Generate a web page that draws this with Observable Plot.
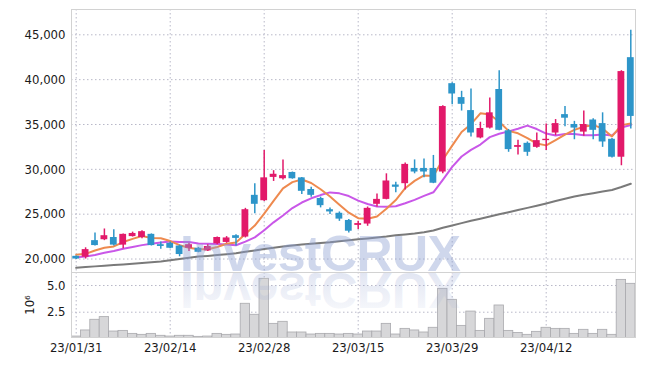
<!DOCTYPE html>
<html><head><meta charset="utf-8">
<script src="https://cdn.jsdelivr.net/npm/d3@7"></script>
<script src="https://cdn.jsdelivr.net/npm/@observablehq/plot@0.6"></script>
<style>
html,body{margin:0;padding:0;background:#fff;}
#chart{position:relative;width:645px;height:366px;overflow:hidden;}
#chart svg{display:block;}
</style></head><body><div id="chart"></div>
<script>
const dates = ["23/01/31",
"23/02/01","23/02/02","23/02/03","23/02/06","23/02/07","23/02/08","23/02/09","23/02/10","23/02/13","23/02/14",
"23/02/15","23/02/16","23/02/17","23/02/20","23/02/21","23/02/22","23/02/23","23/02/24","23/02/27","23/02/28",
"23/03/02","23/03/03","23/03/06","23/03/07","23/03/08","23/03/09","23/03/10","23/03/13","23/03/14","23/03/15",
"23/03/16","23/03/17","23/03/20","23/03/21","23/03/22","23/03/23","23/03/24","23/03/27","23/03/28","23/03/29",
"23/03/30","23/03/31","23/04/03","23/04/04","23/04/05","23/04/06","23/04/07","23/04/10","23/04/11","23/04/12",
"23/04/13","23/04/14","23/04/17","23/04/18","23/04/19","23/04/20","23/04/21","23/04/24","23/04/25"];

const open = [20300,20200,22050,22150,22400,21550,22500,22400,22750,21600,
21750,21450,21200,21200,20900,21700,21850,22600,22450,27100,
26500,29100,28950,29650,29050,27750,26750,25500,25100,24300,
23750,23900,26100,26650,28250,28400,30100,30100,30100,29700,
39550,38000,36550,33500,34600,38900,34300,32450,32900,32450,
33200,34050,36100,35000,34150,35500,35100,33350,31350,42450];
const high = [20350,21250,22900,23350,23250,22800,23000,23150,22800,21900,
21900,21550,21750,21300,21600,22450,22500,22700,25650,28400,
32100,29850,31050,29700,29100,28000,26900,25700,25250,24400,
24200,25800,27250,29500,28550,30700,31050,31150,31550,37100,
39650,38700,38950,35250,37950,41000,34450,33250,33050,34050,
35050,35550,37000,35350,36500,35650,36300,33450,41000,45500];
const low = [19950,20000,21450,22050,21450,21150,22450,22250,21450,21100,
21150,20250,20850,20700,20850,21600,21750,21450,22350,25050,
26400,28650,28800,28900,27200,26900,25700,24950,24200,22900,
23300,23650,25800,26600,27400,27700,29500,29050,28400,29500,
37200,36500,33600,33400,34500,34300,31900,31600,31450,32350,
32100,33750,34750,33300,33700,33300,32450,31250,30400,34500];
const close = [20000,21050,21500,22600,21550,22750,22850,23050,21500,21400,
21200,20500,21600,20750,21400,22400,22350,22300,25500,26100,
29050,29450,29300,28950,27550,27100,25950,25250,24450,23100,
23950,25650,26650,28700,28000,30550,29700,29700,28450,37000,
38400,37250,34050,34550,36300,34350,32200,32650,31900,33200,
33350,35100,35700,34600,35000,34350,33050,31350,40900,35900];
// volume in millions (10^6)
const volume = [0.22,0.79,1.79,2.04,0.69,0.75,0.47,0.38,0.47,0.29,
0.22,0.29,0.29,0.19,0.22,0.47,0.38,0.41,3.29,2.26,
5.63,1.41,1.60,0.60,0.60,0.41,0.47,0.47,0.41,0.47,
0.41,0.69,0.69,1.41,0.41,0.94,0.79,0.60,1.04,4.69,
3.66,1.22,2.56,0.75,1.88,3.13,0.75,0.56,0.38,0.66,
1.04,0.94,0.94,0.47,0.85,0.47,0.85,0.38,5.53,5.16];
const ma5 = [20470,20580,20950,21250,21400,21890,22250,22560,22340,22310,
22000,21540,21250,21100,21100,21340,21710,21840,22790,23730,
25060,26480,27880,28570,28870,28480,27780,26970,26060,25170,
24550,24480,24750,25600,26580,27900,28710,29320,29270,31070,
32640,34160,35030,36250,36110,35300,34290,34020,33490,32870,
32670,33250,33860,34400,34750,34950,34540,33670,34930,35120];
const ma10 = [20200,20280,20450,20700,20900,21150,21350,21550,21700,21830,
21950,21890,21900,21720,21700,21670,21620,21540,21940,22410,
23200,24090,24860,25680,26300,26770,27130,27430,27320,27020,
26510,26130,25860,25830,25880,26220,26590,27040,27440,28830,
30270,31430,32170,32760,33590,33970,34230,34520,34870,34490,
33990,33770,33940,33940,33810,33810,33890,33760,34660,34940];
const ma60 = [19020,19100,19180,19260,19330,19400,19480,19560,19640,19720,
19850,19990,20130,20270,20350,20440,20530,20640,20800,20960,
21120,21250,21390,21520,21620,21700,21780,21860,21970,22080,
22200,22300,22400,22500,22650,22740,22850,22990,23180,23480,
23740,24000,24260,24500,24740,24990,25220,25460,25700,25950,
26200,26460,26720,26970,27160,27340,27520,27700,28030,28390];

const priceTicks = [20000,25000,30000,35000,40000,45000];
const volTicks = [2.5,5.0];
const dateTicks = ["23/01/31","23/02/14","23/02/28","23/03/15","23/03/29","23/04/12"];

const UP = "#e2196a", DOWN = "#2d95c9";
const rows = dates.map((d,i)=>({date:d, open:open[i], high:high[i], low:low[i], close:close[i],
  volume:volume[i], ma5:ma5[i], ma10:ma10[i], ma60:ma60[i], c: close[i]>=open[i]?UP:DOWN}));

const font = {fontFamily:"'DejaVu Sans Condensed','DejaVu Sans',sans-serif", fontSize:"13px", color:"#1a1a1a", fontStretch:"condensed", background:"#fff", overflow:"visible"};
const gridStyle = {stroke:"#b8b8c8", strokeOpacity:1, strokeDasharray:"1.5,2.5", strokeWidth:1};
const xScale = {type:"band", domain:dates, padding:0, round:false};

const price = Plot.plot({
  width:645, height:272, marginLeft:71, marginRight:10, marginTop:9, marginBottom:0,
  style:font,
  x:{...xScale, axis:null},
  y:{domain:[18497,47821]},
  color:{type:"identity"},
  marks:[
    Plot.gridY(priceTicks, gridStyle),
    Plot.gridX(dateTicks, gridStyle),
    Plot.frame({stroke:"#d2d2d2"}),
    Plot.axisY(priceTicks, {tickSize:0, tickPadding:6, tickFormat:d3.format(","), fontSize:13, fill:"#1a1a1a", label:null}),
    Plot.lineY(rows, {x:"date", y:"ma60", stroke:"#7a7a7a", strokeWidth:2}),
    Plot.lineY(rows, {x:"date", y:"ma10", stroke:"#c957e8", strokeWidth:2}),
    Plot.lineY(rows, {x:"date", y:"ma5", stroke:"#ee8a4f", strokeWidth:2}),
    Plot.ruleX(rows, {x:"date", y1:"low", y2:"high", stroke:"c", strokeWidth:1.5}),
    Plot.barY(rows, {x:"date", y1:"open", y2:"close", fill:"c", insetLeft:1.3, insetRight:1.3})
  ]
});

const vol = Plot.plot({
  width:645, height:94, marginLeft:71, marginRight:10, marginTop:0, marginBottom:29,
  style:font,
  x:{...xScale},
  y:{domain:[0.13,6.22]},
  marks:[
    Plot.gridY(volTicks, gridStyle),
    Plot.gridX(dateTicks, gridStyle),
    Plot.barY(rows, {x:"date", y:"volume", fill:"#d7d7d9", stroke:"#a9a9ad", strokeWidth:0.8, clip:true}),
    Plot.frame({stroke:"#d2d2d2"}),
    Plot.axisY(volTicks, {tickSize:0, tickPadding:6, tickFormat:d3.format(".1f"), fontSize:13, fill:"#1a1a1a",
      label:"10⁶", labelAnchor:"center", labelArrow:"none", labelOffset:47}),
    Plot.axisX(dateTicks, {tickSize:0, tickPadding:5, fontSize:13, fill:"#1a1a1a", label:null})
  ]
});

const chart = document.getElementById("chart");
chart.appendChild(price);
chart.appendChild(vol);

// watermark
d3.select(price).append("text")
  .attr("x", 180).attr("y", 271).attr("text-anchor", "start")
  .attr("font-family", "'Liberation Sans',Arial,sans-serif")
  .attr("font-weight", "bold").attr("font-size", 50).attr("letter-spacing", -0.6)
  .attr("fill", "rgb(140,160,210)").attr("fill-opacity", 0.42)
  .attr("style", "font-stretch:normal")
  .text("InvestCRUX");
const vs = d3.select(vol);
const defs = vs.append("defs");
const g = defs.append("linearGradient").attr("id","wmfade").attr("gradientUnits","userSpaceOnUse")
  .attr("x1",0).attr("x2",0).attr("y1",0).attr("y2",-40);
g.append("stop").attr("offset",0).attr("stop-color","rgb(150,165,210)").attr("stop-opacity",0.28);
g.append("stop").attr("offset",1).attr("stop-color","rgb(150,165,210)").attr("stop-opacity",0.08);
vs.append("text")
  .attr("transform","scale(1,-1)").attr("text-anchor", "start")
  .attr("x", 180).attr("y", -1)
  .attr("font-family", "'Liberation Sans',Arial,sans-serif")
  .attr("font-weight", "bold").attr("font-size", 50).attr("letter-spacing", -0.6)
  .attr("fill", "url(#wmfade)")
  .attr("style", "font-stretch:normal")
  .text("InvestCRUX");
</script></body></html>
